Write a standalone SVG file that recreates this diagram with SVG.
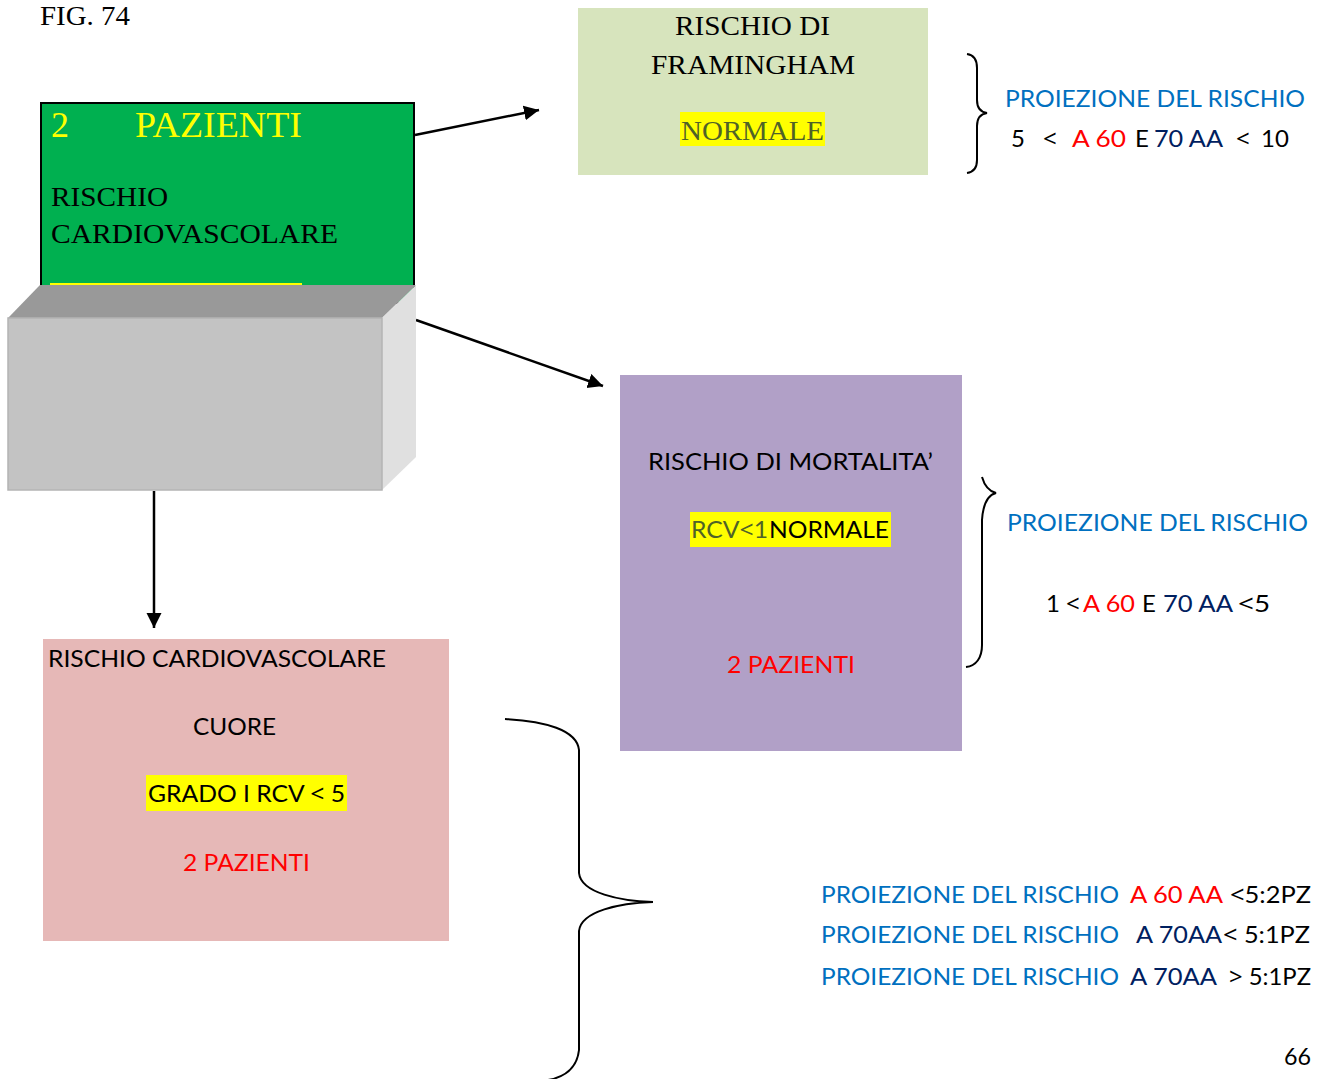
<svg xmlns="http://www.w3.org/2000/svg" width="1324" height="1079" viewBox="0 0 1324 1079">
  <style>
    .serif { font-family: "Liberation Serif", "Times New Roman", serif; }
    .sans { font-family: Lato, "Noto Sans", sans-serif; font-size: 24px; }
    .sym { font-family: "Noto Sans", "DejaVu Sans", sans-serif; }
    .blk { fill: #000000; }
    .yel { fill: #FFFF00; }
    .blue { fill: #0070C0; }
    .red { fill: #FF0000; }
    .navy { fill: #002060; }
    .olive { fill: #4F6228; }
    .hl { fill: #FFFF00; }
    .conn { stroke: #000000; stroke-width: 2.5; fill: none; }
    .brace { stroke: #000000; stroke-width: 2; fill: none; }
  </style>
  <defs>
    <marker id="head" markerUnits="userSpaceOnUse" markerWidth="16" markerHeight="16" refX="15" refY="7.5" orient="auto">
      <path d="M0,0 L15,7.5 L0,15 Z" fill="#000000"/>
    </marker>
  </defs>

  <rect width="1324" height="1079" fill="#FFFFFF"/>

  <text class="serif blk" x="40" y="25" font-size="28" textLength="90" lengthAdjust="spacingAndGlyphs">FIG. 74</text>

  <!-- connectors -->
  <g id="connectors">
    <line class="conn" x1="415" y1="135" x2="539" y2="110" marker-end="url(#head)"/>
    <line class="conn" x1="416" y1="320" x2="603" y2="386" marker-end="url(#head)"/>
    <line class="conn" x1="154" y1="491" x2="154" y2="628" marker-end="url(#head)"/>
  </g>

  <!-- source node: patients box with 3D base -->
  <g id="node-pazienti">
    <rect x="41" y="103" width="373" height="200" fill="#00B050" stroke="#000000" stroke-width="2"/>
    <text class="serif yel" x="51" y="137" font-size="36">2</text>
    <text class="serif yel" x="135" y="137" font-size="36" textLength="167" lengthAdjust="spacingAndGlyphs">PAZIENTI</text>
    <text class="serif blk" x="51" y="206" font-size="28" textLength="117" lengthAdjust="spacingAndGlyphs">RISCHIO</text>
    <text class="serif blk" x="51" y="243" font-size="28" textLength="287" lengthAdjust="spacingAndGlyphs">CARDIOVASCOLARE</text>
    <line x1="50" y1="284" x2="302" y2="284" stroke="#FFFF00" stroke-width="2"/>
  </g>

  <g id="node-block">
    <polygon points="8,318 40,285 416,285 382,318" fill="#999999"/>
    <polygon points="382,318 416,285 416,457 382,490" fill="#E0E0E0"/>
    <rect x="8" y="318" width="374" height="172" fill="#C3C3C3" stroke="#B4B4B4" stroke-width="1.5"/>
  </g>

  <!-- Framingham risk -->
  <g id="node-framingham">
    <rect x="578" y="8" width="350" height="167" fill="#D7E4BD"/>
    <text class="serif blk" x="675" y="35" font-size="28" textLength="155" lengthAdjust="spacingAndGlyphs">RISCHIO DI</text>
    <text class="serif blk" x="651" y="74" font-size="28" textLength="204" lengthAdjust="spacingAndGlyphs">FRAMINGHAM</text>
    <rect class="hl" x="680" y="112" width="145" height="34"/>
    <text class="serif olive" x="681" y="140" font-size="28" textLength="143" lengthAdjust="spacingAndGlyphs">NORMALE</text>
  </g>

  <g id="note-framingham">
    <path class="brace" d="M967,54 C974,55 977,60 977,68 L977,100 C977,108 980,112 987,113 C980,114 977,118 977,126 L977,160 C977,168 974,172 967,173"/>
    <text class="sans blue" x="1005" y="107" textLength="300" lengthAdjust="spacingAndGlyphs">PROIEZIONE DEL RISCHIO</text>
    <text class="sans blk" x="1011" y="147">5</text>
    <text class="sans blk sym" x="1043" y="147">&lt;</text>
    <text class="sans red" x="1072" y="147" textLength="54" lengthAdjust="spacingAndGlyphs">A 60</text>
    <text class="sans blk" x="1135" y="147">E</text>
    <text class="sans navy" x="1154" y="147" textLength="69" lengthAdjust="spacingAndGlyphs">70 AA</text>
    <text class="sans blk sym" x="1236" y="147">&lt;</text>
    <text class="sans blk" x="1261" y="147">10</text>
  </g>

  <!-- mortality risk -->
  <g id="node-mortalita">
    <rect x="620" y="375" width="342" height="376" fill="#B1A0C7"/>
    <text class="sans blk" x="648" y="470" textLength="285" lengthAdjust="spacingAndGlyphs">RISCHIO DI MORTALITA’</text>
    <rect class="hl" x="690" y="512" width="201" height="35"/>
    <text class="sans olive" x="691" y="538" textLength="77" lengthAdjust="spacingAndGlyphs">RCV<tspan class="sym">&lt;</tspan>1</text>
    <text class="sans blk" x="769" y="538" textLength="120" lengthAdjust="spacingAndGlyphs">NORMALE</text>
    <text class="sans red" x="727" y="673" textLength="128" lengthAdjust="spacingAndGlyphs">2 PAZIENTI</text>
  </g>

  <g id="note-mortalita">
    <path class="brace" d="M982,477 C984,484 988,491 996,493 C988,495 983,505 982,520 L982,645 C982,658 976,666 966,667"/>
    <text class="sans blue" x="1007" y="531" textLength="301" lengthAdjust="spacingAndGlyphs">PROIEZIONE DEL RISCHIO</text>
    <text class="sans blk" x="1046" y="612">1</text>
    <text class="sans blk sym" x="1066" y="612">&lt;</text>
    <text class="sans red" x="1083" y="612" textLength="52" lengthAdjust="spacingAndGlyphs">A 60</text>
    <text class="sans blk" x="1142" y="612">E</text>
    <text class="sans navy" x="1163" y="612" textLength="70" lengthAdjust="spacingAndGlyphs">70 AA</text>
    <text class="sans blk" x="1238" y="612" textLength="32" lengthAdjust="spacingAndGlyphs"><tspan class="sym">&lt;</tspan>5</text>
  </g>

  <!-- cardiovascular risk -->
  <g id="node-cuore">
    <rect x="43" y="639" width="406" height="302" fill="#E6B8B7"/>
    <text class="sans blk" x="48" y="667" textLength="338" lengthAdjust="spacingAndGlyphs">RISCHIO CARDIOVASCOLARE</text>
    <text class="sans blk" x="193" y="735" textLength="83" lengthAdjust="spacingAndGlyphs">CUORE</text>
    <rect class="hl" x="146" y="775" width="201" height="36"/>
    <text class="sans blk" x="148" y="802" textLength="197" lengthAdjust="spacingAndGlyphs">GRADO I RCV <tspan class="sym">&lt;</tspan> 5</text>
    <text class="sans red" x="183" y="871" textLength="127" lengthAdjust="spacingAndGlyphs">2 PAZIENTI</text>
  </g>

  <g id="note-cuore">
    <path class="brace" d="M505,719 C545,721 577,730 579,750 L579,873 C581,893 620,901 653,902 C620,903 581,911 579,931 L579,1050 C577,1068 565,1077 548,1080"/>
    <text class="sans blue" x="821" y="903" textLength="298" lengthAdjust="spacingAndGlyphs">PROIEZIONE DEL RISCHIO</text>
    <text class="sans red" x="1130" y="903" textLength="93" lengthAdjust="spacingAndGlyphs">A 60 AA</text>
    <text class="sans blk" x="1230" y="903" textLength="81" lengthAdjust="spacingAndGlyphs"><tspan class="sym">&lt;</tspan>5:2PZ</text>

    <text class="sans blue" x="821" y="943" textLength="298" lengthAdjust="spacingAndGlyphs">PROIEZIONE DEL RISCHIO</text>
    <text class="sans navy" x="1136" y="943" textLength="86" lengthAdjust="spacingAndGlyphs">A 70AA</text>
    <text class="sans blk" x="1223" y="943" textLength="87" lengthAdjust="spacingAndGlyphs"><tspan class="sym">&lt;</tspan> 5:1PZ</text>

    <text class="sans blue" x="821" y="985" textLength="298" lengthAdjust="spacingAndGlyphs">PROIEZIONE DEL RISCHIO</text>
    <text class="sans navy" x="1130" y="985" textLength="87" lengthAdjust="spacingAndGlyphs">A 70AA</text>
    <text class="sans blk" x="1229" y="985" textLength="82" lengthAdjust="spacingAndGlyphs"><tspan class="sym">&gt;</tspan> 5:1PZ</text>
  </g>

  <text class="sans blk" x="1284" y="1065" textLength="27" lengthAdjust="spacingAndGlyphs">66</text>
</svg>
